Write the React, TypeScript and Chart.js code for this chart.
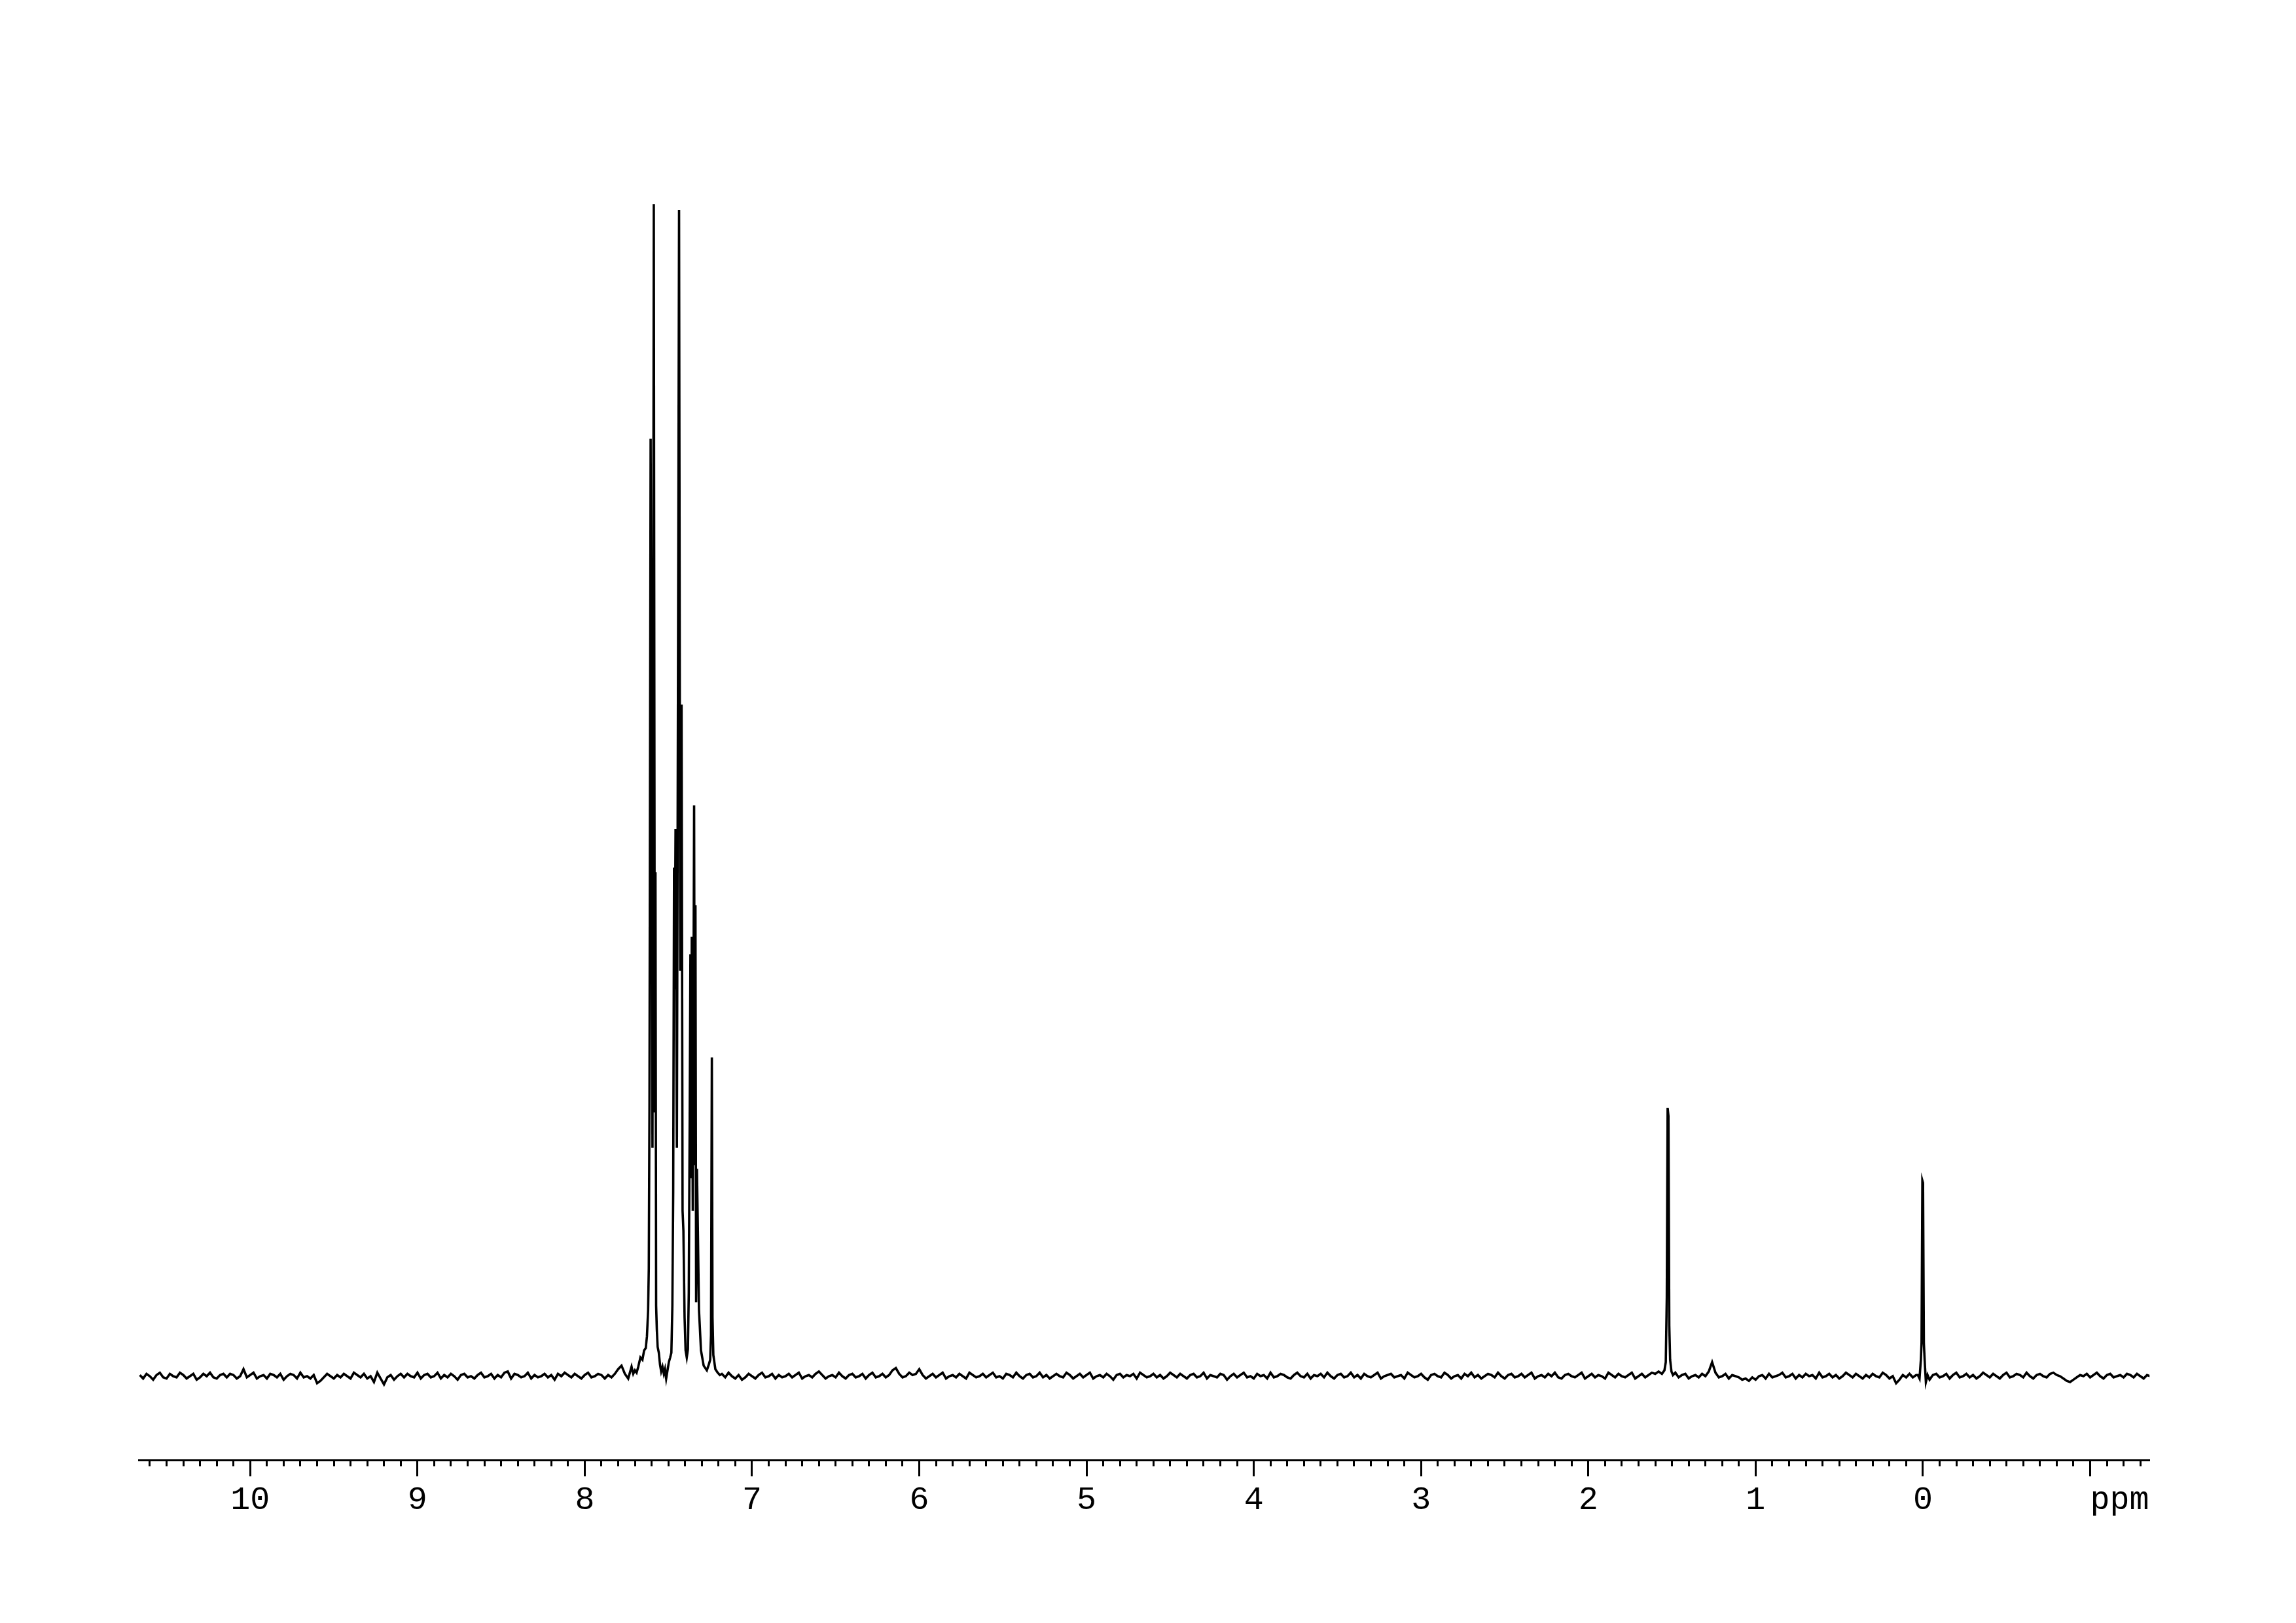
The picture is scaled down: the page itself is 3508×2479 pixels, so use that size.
import { useEffect, useRef } from 'react';
import { Chart, registerables } from 'chart.js';

Chart.register(...registerables);

// ---------------- DATA ----------------
// x axis (ppm), drawn reversed
const PPM_LEFT = 10.665;
const PPM_RIGHT = -1.355;
const TICK_STEP = 0.1;
const LABELED_TICKS = [10, 9, 8, 7, 6, 5, 4, 3, 2, 1, 0, -1];
const UNIT_LABEL = 'ppm'; // shown in place of -1

// intensity scale (tallest line = 1000)
const INT_MIN = -71.5;
const INT_MAX = 1100;

// baseline noise, sampled every 0.02 ppm, in four stretches between signals
const NOISE_STEP = 0.02;
const noiseA_start = 10.66; // to 7.72
const noiseA = [
  1, -2, 2, 0, -3, 1, 3, -1, -2, 2, 0, -1, 3, 1, -2, 0, 2, -3, -1, 2,
  0, 3, -1, -2, 1, 2, -1, 2, 1, -2, 0, 6, -1, 1, 3, -2, 0, 1, -2, 2,
  1, -1, 2, -3, 0, 2, 1, -2, 3, -1, 0, -2, 1, -6, -4, -1, 2, 0, -2, 1,
  -1, 2, 0, -2, 3, 1, -1, 2, -2, 0, -5, 3, -2, -7, -1, 1, -3, 0, 2, -1,
  2, 0, -1, 3, -2, 1, 2, -1, 0, 3, -2, 1, -1, 2, 0, -3, 1, 2, -1, 0,
  -2, 1, 3, -1, 0, 2, -2, 1, -1, 3, 4, -2, 2, 1, -1, 0, 3, -2, 1, -1,
  0, 2, -1, 1, -3, 2, 0, 3, 1, -1, 2, 0, -2, 1, 3, -1, 0, 2, 1, -2,
  1, -1, 2, 6, 9, 2, -2, 8,
];
const noiseB_start = 7.18; // to 1.58
const noiseB = [
  2, -1, 3, 0, -2, 1, -3, -1, 2, 0, -2, 1, 3, -1, 0, 2, -2, 1, -1, 0,
  2, -1, 1, 3, -2, 0, 1, -1, 2, 4, 1, -2, 0, 1, -1, 3, 0, -2, 1, 2,
  -1, 0, 2, -2, 1, 3, -1, 0, 2, -1, 1, 5, 7, 2, -1, 0, 3, 1, 2, 6,
  1, -2, 0, 2, -1, 1, 3, -2, 0, 1, -1, 2, 0, -2, 3, 1, -1, 0, 2, -1,
  1, 3, -1, 0, -2, 2, 1, -1, 3, 0, -2, 1, 2, -1, 0, 3, -1, 1, -2, 0,
  2, 0, -1, 3, 1, -2, 0, 2, -1, 1, 3, -2, 0, 1, -1, 2, 0, -3, 1, 2,
  -1, 1, 0, 2, -2, 3, 1, -1, 0, 2, -1, 1, -2, 0, 3, 1, -1, 2, 0, -2,
  1, 2, -1, 0, 3, -2, 1, 0, -1, 2, 1, -3, 0, 2, -1, 1, 3, -1, 0, -2,
  2, 0, 1, -2, 3, -1, 0, 2, 1, -1, -2, 1, 3, 0, -1, 2, -2, 1, 0, 2,
  -1, 3, 0, -2, 1, 2, -1, 0, 3, -1, 1, -2, 2, 0, -1, 1, 3, -2, 0, 1,
  2, -1, 0, 1, -2, 3, 1, -1, 0, 2, -1, -3, 1, 2, 0, -1, 3, 1, -2, 0,
  1, -2, 2, 0, 3, -1, 1, -2, 0, 2, 1, -1, 3, 0, -2, 1, 2, -1, 0, 2,
  -1, 1, 3, -2, 0, 1, -1, 2, 0, 3, -1, -2, 1, 2, 0, -1, 1, 3, -2, 0,
  2, -1, 1, 0, -2, 3, 1, -1, 2, 0, -1, 1, 3, -2, 0, 2, -1, 1, 3, 2,
  4,
];
const noiseC_start = 1.48; // to 0.04
const noiseC = [
  3, -1, 1, 2, -2, 0, 1, -1, 2, 0, 4, 12, 3, -1, 0, 2, -2, 1, 0, -1,
  -3, -2, -4, -1, -3, 0, 1, -2, 2, -1, 0, 1, 3, -1, 0, 2, -2, 1, -1, 2,
  0, 1, -2, 3, -1, 0, 2, -1, 1, -2, 0, 3, 1, -1, 2, 0, -2, 1, -1, 2,
  0, -1, 3, 1, -2, 0, -6, -3, 1, -1, 2, -1, 1,
];
const noiseD_start = -0.04; // to -1.36
const noiseD = [
  -3, 1, 2, -1, 0, 2, -2, 1, 3, -1, 0, 2, -1, 1, -2, 0, 3, 1, -1, 2,
  0, -2, 1, 3, -1, 0, 2, 1, -1, 3, 0, -2, 1, 2, 0, -1, 2, 3, 1, 0,
  -2, -4, -5, -3, -1, 1, 0, 2, -1, 1, 3, 0, -2, 1, 2, -1, 0, 1, -1, 2,
  1, -1, 2, 0, -2, 1, 0,
];

// signals: [ppm, intensity]
const aromaticSignals: [number, number][] = [
  [7.710, 2], [7.700, 5], [7.690, 3], [7.680, 8], [7.667, 16], [7.655, 14],
  [7.645, 22], [7.635, 24], [7.628, 34], [7.621, 56], [7.617, 92], [7.613, 230],
  [7.606, 800], [7.595, 195], [7.587, 1000], [7.581, 225], [7.577, 430], [7.573, 60],
  [7.569, 40], [7.564, 25], [7.557, 20], [7.550, 10], [7.543, 4], [7.535, 8],
  [7.527, 2], [7.520, 6], [7.513, -2], [7.505, 5], [7.497, 12], [7.489, 16],
  [7.482, 20], [7.476, 60], [7.471, 157], [7.466, 434], [7.462, 330], [7.457, 467],
  [7.449, 195], [7.436, 995], [7.429, 346], [7.421, 573], [7.415, 141], [7.410, 124],
  [7.403, 50], [7.397, 22], [7.390, 16], [7.383, 23], [7.378, 71], [7.372, 230],
  [7.368, 360], [7.364, 169], [7.360, 375], [7.354, 141], [7.346, 487], [7.342, 180],
  [7.338, 402], [7.334, 63], [7.329, 177], [7.323, 118], [7.317, 57], [7.305, 22],
  [7.289, 9], [7.270, 5], [7.258, 10], [7.250, 14], [7.245, 35], [7.240, 272],
  [7.236, 50], [7.231, 18], [7.219, 6], [7.205, 3], [7.192, 1],
];
const waterSignal: [number, number][] = [
  [1.560, 2], [1.545, 5], [1.537, 12], [1.531, 67], [1.526, 229], [1.521, 222],
  [1.516, 43], [1.511, 14], [1.503, 4], [1.494, 1],
];
const tmsSignal: [number, number][] = [
  [0.030, 1], [0.020, -2], [0.012, 14], [0.008, 28], [0.003, 167], [-0.001, 165],
  [-0.006, 28], [-0.012, 10], [-0.018, -5], [-0.028, 1],
];

// ---------------- BUILD ----------------
function noisePoints(start: number, values: number[]) {
  return values.map((v, i) => ({ x: Math.round((start - i * NOISE_STEP) * 1000) / 1000, y: v }));
}
function signalPoints(list: [number, number][]) {
  return list.map(([x, y]) => ({ x, y }));
}

const spectrum = [
  ...noisePoints(noiseA_start, noiseA),
  ...signalPoints(aromaticSignals),
  ...noisePoints(noiseB_start, noiseB),
  ...signalPoints(waterSignal),
  ...noisePoints(noiseC_start, noiseC),
  ...signalPoints(tmsSignal),
  ...noisePoints(noiseD_start, noiseD),
].sort((a, b) => b.x - a.x);

const isLabeled = (v: number) => LABELED_TICKS.some((t) => Math.abs(t - v) < 1e-6);

export default function App() {
  const ref = useRef<HTMLCanvasElement>(null);

  useEffect(() => {
    if (!ref.current) return;
    const chart = new Chart(ref.current, {
      type: 'scatter',
      data: {
        datasets: [
          {
            data: spectrum,
            showLine: true,
            borderColor: '#000',
            borderWidth: 3.6,
            pointRadius: 0,
            pointHoverRadius: 0,
            tension: 0,
            fill: false,
          },
        ],
      },
      options: {
        animation: false,
        responsive: false,
        devicePixelRatio: 1,
        events: [],
        layout: { padding: { left: 212.3, right: 223.8, top: 133, bottom: 0 } },
        plugins: { legend: { display: false }, tooltip: { enabled: false }, title: { display: false } },
        scales: {
          x: {
            type: 'linear',
            reverse: true,
            min: PPM_RIGHT,
            max: PPM_LEFT,
            afterFit: (scale: any) => {
              scale.height = 249;
            },
            border: { display: true, color: '#000', width: 3 },
            grid: {
              display: true,
              drawOnChartArea: false,
              drawTicks: true,
              tickLength: 25,
              tickWidth: 3,
              tickColor: '#000',
              tickBorderDash: (ctx: any) => (ctx.tick && isLabeled(ctx.tick.value) ? [] : [7.5, 200]),
            } as any,
            ticks: {
              stepSize: TICK_STEP,
              autoSkip: false,
              maxRotation: 0,
              minRotation: 0,
              includeBounds: false,
              padding: 7,
              color: '#000',
              font: { family: '"Liberation Mono", "Courier New", monospace', size: 50 },
              callback: (value: any) => {
                const v = Number(value);
                if (!isLabeled(v)) return '';
                const r = Math.round(v);
                return r === -1 ? '   ' + UNIT_LABEL : String(r);
              },
            },
          },
          y: { display: false, min: INT_MIN, max: INT_MAX },
        },
      },
    });
    return () => chart.destroy();
  }, []);

  return (
    <div style={{ position: 'absolute', left: 0, top: 0, width: 3508, height: 2479, background: '#fff' }}>
      <canvas ref={ref} width={3508} height={2479} style={{ display: 'block', width: '3508px', height: '2479px' }} />
    </div>
  );
}
